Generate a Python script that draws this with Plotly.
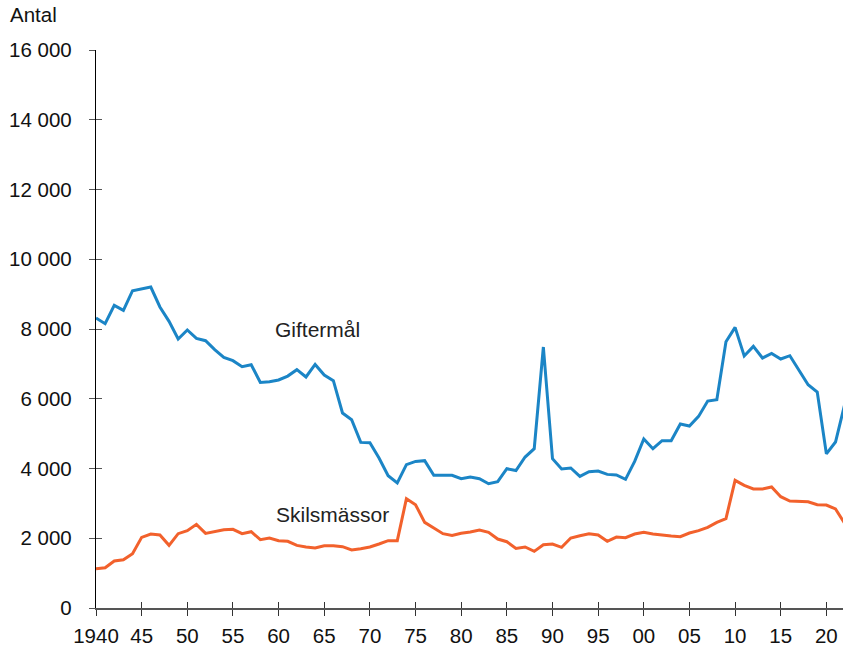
import plotly.graph_objects as go

years = list(range(1940, 2023))

giftermal = [
    8315, 8152, 8677, 8534, 9098, 9147, 9204, 8631, 8219, 7713,
    7971, 7731, 7665, 7407, 7186, 7091, 6919, 6976, 6469, 6489,
    6538, 6650, 6833, 6624, 6985, 6681, 6518, 5591, 5399, 4749,
    4740, 4301, 3794, 3584, 4109, 4204, 4224, 3803, 3813, 3803,
    3708, 3756, 3708, 3564, 3621, 3994, 3940, 4329, 4568, 7484,
    4281, 3985, 4014, 3774, 3908, 3928, 3831, 3813, 3688, 4204,
    4846, 4568, 4797, 4797, 5276, 5219, 5494, 5935, 5973, 7636,
    8046, 7226, 7501, 7168, 7301, 7140, 7234, 6833, 6403, 6194,
    4420, 4760, 5830,
]

skilsmassor = [
    1127, 1156, 1347, 1385, 1557, 2025, 2121, 2093, 1796, 2131,
    2217, 2398, 2140, 2197, 2246, 2255, 2131, 2188, 1959, 2007,
    1930, 1911, 1796, 1749, 1720, 1786, 1786, 1758, 1663, 1701,
    1749, 1835, 1930, 1930, 3134, 2962, 2455, 2294, 2131, 2083,
    2145, 2179, 2236, 2169, 1978, 1901, 1710, 1749, 1624, 1815,
    1835, 1739, 2007, 2073, 2131, 2093, 1911, 2035, 2016, 2121,
    2169, 2121, 2083, 2064, 2045, 2150, 2217, 2312, 2455, 2561,
    3660, 3516, 3412, 3412, 3470, 3192, 3068, 3058, 3048, 2962,
    2952, 2839, 2430,
]

x_tickvals = list(range(1940, 2021, 5))
x_ticktext = ["1940", "45", "50", "55", "60", "65", "70", "75", "80",
              "85", "90", "95", "00", "05", "10", "15", "20"]
y_tickvals = list(range(0, 16001, 2000))
y_ticktext = ["0", "2 000", "4 000", "6 000", "8 000", "10 000",
              "12 000", "14 000", "16 000"]

BLUE = "#1b85c6"
ORANGE = "#f2612c"
FONT = "Liberation Sans, Arial, sans-serif"
XR = [1940, 2021.82]
YR = [0, 16000]
PW, PH = 747, 558  # plot area size in px

fig = go.Figure()
fig.add_trace(go.Scatter(x=years, y=giftermal, mode="lines",
                         line=dict(color=BLUE, width=3), showlegend=False))
fig.add_trace(go.Scatter(x=years, y=skilsmassor, mode="lines",
                         line=dict(color=ORANGE, width=3), showlegend=False))
# invisible trace for the inner-tick duplicate axes
fig.add_trace(go.Scatter(x=[1940], y=[0], xaxis="x2", yaxis="y2",
                         mode="markers", marker=dict(opacity=0),
                         showlegend=False, hoverinfo="skip"))

fig.update_layout(
    width=843, height=647,
    margin=dict(l=96, r=0, t=50, b=39, autoexpand=False),
    paper_bgcolor="white", plot_bgcolor="white",
    font=dict(family=FONT, size=20.5, color="#111111"),
    xaxis=dict(range=XR, tickvals=x_tickvals, ticktext=x_ticktext,
               showgrid=False, zeroline=False, showline=True,
               linecolor="#555555", linewidth=1.5, automargin=False,
               ticks="outside", ticklen=6, tickwidth=1.3, tickcolor="#333333",
               ticklabelstandoff=3),
    yaxis=dict(range=YR, tickvals=y_tickvals, ticktext=y_ticktext,
               showgrid=False, zeroline=False, showline=True,
               linecolor="#000000", linewidth=1.3, automargin=False,
               ticks="outside", ticklen=6, tickwidth=1.3, tickcolor="#555555",
               ticklabelstandoff=13),
    xaxis2=dict(range=XR, overlaying="x", tickvals=x_tickvals,
                showticklabels=False, showgrid=False, zeroline=False,
                showline=False, ticks="inside", ticklen=6, tickwidth=1.3,
                tickcolor="#333333"),
    yaxis2=dict(range=YR, overlaying="y", tickvals=y_tickvals,
                showticklabels=False, showgrid=False, zeroline=False,
                showline=False, ticks="inside", ticklen=6, tickwidth=1.3,
                tickcolor="#555555"),
    annotations=[
        dict(text="Antal", xref="paper", yref="paper", x=-88 / PW,
             y=1 + 36 / PH, xanchor="left", yanchor="middle", showarrow=False,
             font=dict(family=FONT, size=20.5, color="#111111")),
        dict(text="Giftermål", x=1959.4, y=7980, xref="x", yref="y",
             xanchor="left", yanchor="middle", showarrow=False,
             font=dict(family=FONT, size=21, color="#222222")),
        dict(text="Skilsmässor", x=1959.5, y=2670, xref="x", yref="y",
             xanchor="left", yanchor="middle", showarrow=False,
             font=dict(family=FONT, size=21, color="#222222")),
    ],
)

fig.write_html(
    "out.html",
    config={"displayModeBar": False},
    post_script=(
        "document.documentElement.style.overflow='hidden';"
        "document.body.style.margin='0';"
        "document.body.style.overflow='hidden';"
    ),
)
